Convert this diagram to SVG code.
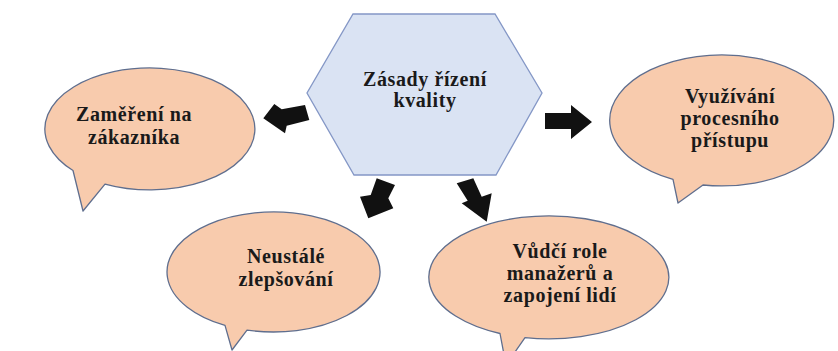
<svg xmlns="http://www.w3.org/2000/svg" width="838" height="351" viewBox="0 0 838 351">
  <style>
    .bubble { fill: #f8cbad; stroke: #5f6e8e; stroke-width: 1.3; stroke-linejoin: round; }
    .hex { fill: #dae3f3; stroke: #8497c6; stroke-width: 1.3; }
    .arrow { fill: #111111; stroke: none; }
    .lbl { font-family: 'Liberation Serif', 'DejaVu Serif', serif; font-weight: bold; font-size: 20px; letter-spacing: 0.6px; fill: #1a1a1a; text-anchor: middle; }
  </style>
  <rect width="838" height="351" fill="#ffffff"/>

  <!-- central hexagon -->
  <g id="zasady">
    <polygon class="hex" points="353,14 495,14 542,93 496,175 354,175 307,93"/>
    <text class="lbl" font-family="Liberation Serif, serif" x="425" y="86">Zásady řízení</text>
    <text class="lbl" font-family="Liberation Serif, serif" x="425" y="107">kvality</text>
  </g>

  <!-- speech bubbles -->
  <g id="zakaznik">
    <path class="bubble" d="M105,184.1 A105,61 0 1 0 73,170.5 L83,211 Z"/>
    <text class="lbl" x="134" y="121">Zaměření na</text>
    <text class="lbl" x="134" y="144">zákazníka</text>
  </g>

  <g id="procesni">
    <path class="bubble" d="M703,185 A112,65.5 0 1 0 673,179.4 L678,203 Z"/>
    <text class="lbl" x="730" y="103">Využívání</text>
    <text class="lbl" x="730" y="125">procesního</text>
    <text class="lbl" x="730" y="147">přístupu</text>
  </g>

  <g id="zlepsovani">
    <path class="bubble" d="M247,330.1 A106.5,60 0 1 0 225,325.4 L232,350 Z"/>
    <text class="lbl" x="286" y="263">Neustálé</text>
    <text class="lbl" x="286" y="286">zlepšování</text>
  </g>

  <g id="vudci-role">
    <path class="bubble" d="M525,337.6 A120,61.5 0 1 0 500,333.5 L506,365 Z"/>
    <text class="lbl" x="560" y="258">Vůdčí role</text>
    <text class="lbl" x="560" y="280">manažerů a</text>
    <text class="lbl" x="560" y="302">zapojení lidí</text>
  </g>

  <!-- block arrows from the hexagon -->
  <g id="connectors">
    <polygon class="arrow" points="305,105 281.7,109.3 274.3,104 263.3,118.3 285,133.3 286.7,125.7 309.3,120"/>
    <polygon class="arrow" points="545,113 571,113 571,105 592,122 571,139 571,129 545,129"/>
    <polygon class="arrow" points="376.7,178.3 370.7,195 360,196.7 368.3,218.3 393.3,208.3 388.3,198.3 395,185"/>
    <polygon class="arrow" points="456.7,183.3 467.7,200.7 461.7,203.3 486.7,221.7 491.7,193.3 481.7,196.7 473.3,178.3"/>
  </g>
</svg>
